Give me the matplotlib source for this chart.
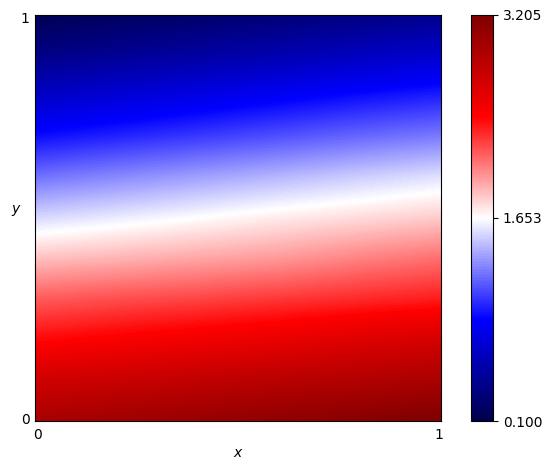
# heatmap on the unit square, seismic colormap
from matplotlib import pyplot as plt
import numpy as np

# values on a coarse grid
# (the 100x100 cell noise of the original can't be read cell by cell)
x_pos = [0.0, 0.2, 0.4, 0.6, 0.8, 1.0]
y_pos = [1.0, 0.9, 0.8, 0.7, 0.6, 0.5, 0.4, 0.3, 0.2, 0.1, 0.0]
row_100 = [0.13, 0.18, 0.23, 0.28, 0.33, 0.38]
row_090 = [0.35, 0.41, 0.47, 0.53, 0.60, 0.66]
row_080 = [0.63, 0.70, 0.77, 0.84, 0.91, 0.97]
row_070 = [0.91, 0.98, 1.05, 1.12, 1.19, 1.25]
row_060 = [1.22, 1.29, 1.36, 1.43, 1.50, 1.56]
row_050 = [1.53, 1.59, 1.65, 1.71, 1.76, 1.81]
row_040 = [1.84, 1.88, 1.92, 1.96, 2.03, 2.09]
row_030 = [2.15, 2.19, 2.22, 2.26, 2.30, 2.34]
row_020 = [2.40, 2.45, 2.50, 2.55, 2.62, 2.68]
row_010 = [2.71, 2.75, 2.80, 2.85, 2.89, 2.94]
row_000 = [2.95, 3.00, 3.05, 3.10, 3.15, 3.205]
v_min = 0.100
v_mid = 1.653
v_max = 3.205

z = np.array([row_100, row_090, row_080, row_070, row_060, row_050,
              row_040, row_030, row_020, row_010, row_000])

fig = plt.figure(figsize=(5.51, 4.69), dpi=100)
ax = fig.add_axes([35 / 551, 1 - 421 / 469, 406 / 551, 406 / 469])
cax = fig.add_axes([471 / 551, 1 - 421 / 469, 22 / 551, 406 / 469])

# half a grid step past each edge so the grid values land on their positions
dx = x_pos[1] - x_pos[0]
dy = y_pos[0] - y_pos[1]
im = ax.imshow(z, cmap='seismic', vmin=v_min, vmax=v_max, aspect='auto',
               interpolation='bilinear', interpolation_stage='data',
               extent=[-dx / 2, 1 + dx / 2, -dy / 2, 1 + dy / 2])
ax.set_xlim(0, 1)
ax.set_ylim(0, 1)

# ticks sit on the centres of the first and last cells
ax.set_xticks([0.005, 0.995], ['0', '1'])
ax.set_yticks([0.005, 0.995], ['0', '1'])
ax.tick_params(axis='x', length=0, pad=5)
ax.tick_params(axis='y', length=0, pad=4)
ax.set_xlabel('$x$', labelpad=3)
ax.set_ylabel('$y$', rotation=0, labelpad=3)

cb = fig.colorbar(im, cax=cax, ticks=[v_min, v_mid, v_max], format='%.3f')

plt.savefig('out.png', dpi=100)
